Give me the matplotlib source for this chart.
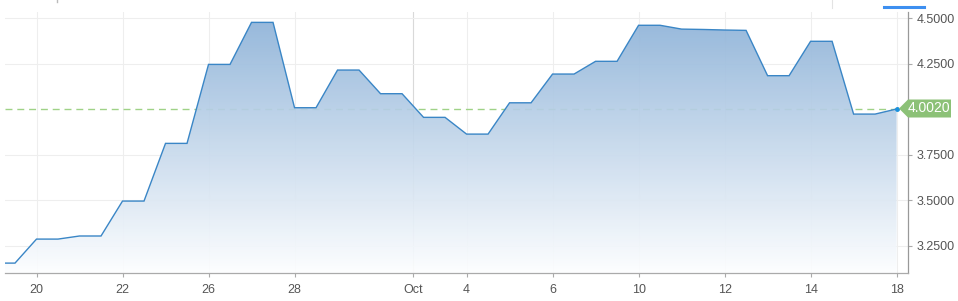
import matplotlib
matplotlib.use('Agg')
import matplotlib.pyplot as plt
from matplotlib.patches import Polygon
import numpy as np

# values (two points per session, first one sits just left of the frame)
values = [3.155, 3.155,
          3.287, 3.287, 3.304, 3.304, 3.496, 3.496, 3.813, 3.813,
          4.247, 4.247, 4.478, 4.478, 4.009, 4.009, 4.216, 4.216,
          4.086, 4.086, 3.956, 3.956, 3.864, 3.864, 4.036, 4.036,
          4.194, 4.194, 4.264, 4.264, 4.462, 4.462, 4.441, 4.439,
          4.436, 4.434, 4.185, 4.185, 4.374, 4.374, 3.974, 3.974, 4.002]
tick_pos = [1, 5, 9, 13, 18.5, 21, 25, 29, 33, 37, 41]
tick_labels = ['20', '22', '26', '28', 'Oct', '4', '6', '10', '12', '14', '18']
y_ticks = [3.25, 3.5, 3.75, 4.0, 4.25, 4.5]
last_value = 4.002

x = np.arange(len(values)) - 1
y = np.array(values)

plt.rcParams['font.family'] = ['Liberation Sans', 'DejaVu Sans']

fig = plt.figure(figsize=(9.58, 3.01), dpi=100)
ax = fig.add_axes([5/958, 1-273.3/301, 903/958, 261.3/301])
ymin, ymax = 3.099, 4.535

# grid
for t, lab in zip(tick_pos, tick_labels):
    ax.axvline(t, color='#d9d9d9' if lab == 'Oct' else '#eeeeee', lw=0.8, zorder=0)
for t in y_ticks:
    if t != 4.0:
        ax.axhline(t, color='#eeeeee', lw=0.8, zorder=0)

# reference dashed line
ax.axhline(last_value, color='#9fd287', lw=1.0, ls=(0, (5, 3.5)), zorder=1)

# gradient fill under the line
top_c = np.array([138, 176, 215]) / 255
bot_c = np.array([253, 254, 255]) / 255
frac = np.linspace(0, 1, 256)[:, None]
grad = (top_c[None, :] * (1 - frac) + bot_c[None, :] * frac)[:, None, :]
im = ax.imshow(grad, extent=[x[0], x[-1], ymin, ymax], aspect='auto',
               origin='upper', zorder=2, alpha=0.92)
verts = np.vstack([[x[0], ymin], np.column_stack([x, y]), [x[-1], ymin]])
poly = Polygon(verts, closed=True, facecolor='none', edgecolor='none')
ax.add_patch(poly)
im.set_clip_path(poly)
ax.set_xlim(-0.465, 41.53)
ax.set_ylim(ymin, ymax)

ax.plot(x, y, color='#3a86c6', lw=1.0, zorder=3, solid_joinstyle='miter')
ax.plot(x[-1], y[-1], 'o', color='#1a90dc', ms=2.5, zorder=4)

# axes styling
for s in ['top', 'left']:
    ax.spines[s].set_visible(False)
ax.spines['right'].set_color('#999999')
ax.spines['bottom'].set_color('#aaaaaa')
ax.spines['right'].set_linewidth(0.9)
ax.spines['bottom'].set_linewidth(0.9)

ax.set_xticks(tick_pos)
ax.set_xticklabels(tick_labels)
ax.yaxis.tick_right()
ax.set_yticks(y_ticks)
ax.set_yticklabels(['%.4f' % t if t != 4.0 else '' for t in y_ticks])
ax.tick_params(axis='x', colors='#aaaaaa', length=3, width=0.8, pad=5,
               labelsize=9, labelcolor='#555555')
ax.tick_params(axis='y', colors='#aaaaaa', length=3, width=0.8, pad=3,
               labelsize=9, labelcolor='#555555')

# last value tag
tx0, ty = 899/958, 1 - 108.5/301
w, h = 52/958, 18/301
tag = Polygon([[tx0, ty], [tx0 + 9/958, ty + h/2], [tx0 + w, ty + h/2],
               [tx0 + w, ty - h/2], [tx0 + 9/958, ty - h/2]], closed=True,
              transform=fig.transFigure, facecolor='#8cc177', edgecolor='none', zorder=5)
fig.patches.append(tag)
fig.text(929/958, ty, '%.4f' % last_value, color='white',
         fontsize=10, ha='center', va='center', zorder=6)

# bits of the page header
fig.add_artist(plt.Line2D([884/958, 924/958], [1-6.5/301, 1-6.5/301],
                          transform=fig.transFigure, color='#3d8ff0', lw=2.2))
fig.add_artist(plt.Line2D([832/958, 832/958], [1, 1-8/301],
                          transform=fig.transFigure, color='#e3e3e3', lw=0.8))
fig.add_artist(plt.Line2D([57/958, 57/958], [1, 1-2/301],
                          transform=fig.transFigure, color='#bbbbbb', lw=1))

fig.savefig('out.png', dpi=100)
